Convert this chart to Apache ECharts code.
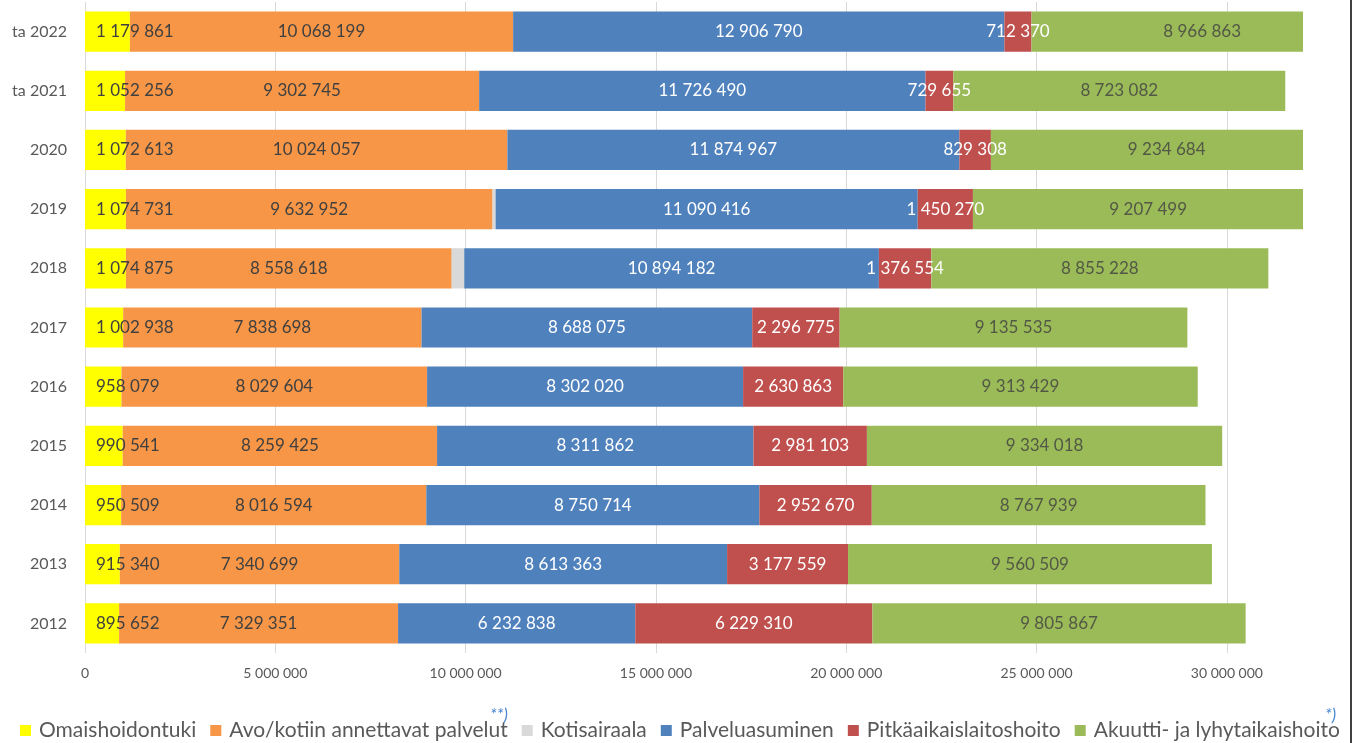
<!DOCTYPE html>
<html><head><meta charset="utf-8">
<script src="https://cdn.jsdelivr.net/npm/echarts@6/dist/echarts.min.js"></script>
<style>html,body{margin:0;padding:0;background:#fff}#c{width:1354px;height:743px}</style>
</head><body><div id="c"></div>
<script>
const categories = ['2012','2013','2014','2015','2016','2017','2018','2019','2020','ta 2021','ta 2022'];
const omaishoidontuki = [895652, 915340, 950509, 990541, 958079, 1002938, 1074875, 1074731, 1072613, 1052256, 1179861];
const avoKotiin = [7329351, 7340699, 8016594, 8259425, 8029604, 7838698, 8558618, 9632952, 10024057, 9302745, 10068199];
const kotisairaala = [0, 0, 0, 0, 0, 0, 330000, 80000, 0, 0, 0];
const palveluasuminen = [6232838, 8613363, 8750714, 8311862, 8302020, 8688075, 10894182, 11090416, 11874967, 11726490, 12906790];
const pitkaaikais = [6229310, 3177559, 2952670, 2981103, 2630863, 2296775, 1376554, 1450270, 829308, 729655, 712370];
const akuutti = [9805867, 9560509, 8767939, 9334018, 9313429, 9135535, 8855228, 9207499, 9234684, 8723082, 8966863];
const xTicks = [0, 5000000, 10000000, 15000000, 20000000, 25000000, 30000000];

const fmt = v => String(Math.round(v)).replace(/\B(?=(\d{3})+(?!\d))/g, ' ');
const FONT = 'Lato';
const darkTxt = '#404040';

function barSeries(name, data, color, labelColor, pos, showLabel, dist) {
  return {
    name, type: 'bar', stack: 'total', data, barWidth: '68%',
    itemStyle: { color }, clip: true, silent: true,
    label: { show: showLabel, position: pos || 'inside', distance: dist || 4, color: labelColor,
      fontFamily: FONT, fontSize: 17,
      formatter: p => p.value ? fmt(p.value) : '' }
  };
}
// labels for the last segment placed at the middle of the full (unclipped) segment
const akuuttiLabelPts = akuutti.map((v, i) => {
  const start = omaishoidontuki[i] + avoKotiin[i] + kotisairaala[i] + palveluasuminen[i] + pitkaaikais[i];
  return [start + v / 2, i, v];
});

const chart = echarts.init(document.getElementById('c'));
chart.setOption({
  animation: false,
  textStyle: { fontFamily: FONT },
  grid: { left: 85, right: 51, top: 2, bottom: 90, containLabel: false },
  legend: {
    top: 715, left: 15, icon: 'rect', itemWidth: 11, itemHeight: 11, itemGap: 14,
    data: ['Omaishoidontuki','Avo/kotiin annettavat palvelut','Kotisairaala','Palveluasuminen','Pitkäaikaislaitoshoito','Akuutti- ja lyhytaikaishoito'],
    textStyle: { fontFamily: FONT, fontSize: 21, color: '#595959', padding: [0, 0, 0, 3] }
  },
  xAxis: {
    type: 'value', min: 0, max: 32000000, interval: 5000000,
    axisLine: { show: false }, axisTick: { show: false },
    splitLine: { show: true, showMaxLine: false, lineStyle: { color: '#d9d9d9', width: 1 } },
    axisLabel: { margin: 13, color: '#595959', fontFamily: FONT, fontSize: 14, showMaxLabel: false,
      formatter: v => xTicks.includes(v) ? fmt(v) : '' }
  },
  yAxis: {
    type: 'category', data: categories,
    axisLine: { show: false }, axisTick: { show: false },
    axisLabel: { margin: 18, color: '#595959', fontFamily: FONT, fontSize: 16 }
  },
  series: [
    barSeries('Omaishoidontuki', omaishoidontuki, '#ffff00', darkTxt, 'insideLeft', true, 11),
    barSeries('Avo/kotiin annettavat palvelut', avoKotiin, '#f79646', darkTxt, 'inside', true),
    barSeries('Kotisairaala', kotisairaala, '#d9d9d9', darkTxt, 'inside', false),
    barSeries('Palveluasuminen', palveluasuminen, '#4f81bd', '#ffffff', 'inside', true),
    barSeries('Pitkäaikaislaitoshoito', pitkaaikais, '#c0504d', '#ffffff', 'inside', true),
    barSeries('Akuutti- ja lyhytaikaishoito', akuutti, '#9bbb59', darkTxt, 'inside', false),
    {
      name: 'akuuttiLabels', type: 'scatter', data: akuuttiLabelPts, symbolSize: 0, silent: true, z: 5,
      label: { show: true, position: 'inside', color: darkTxt, fontFamily: FONT, fontSize: 17,
        formatter: p => fmt(p.value[2]) }
    }
  ],
  graphic: [
    { type: 'line', shape: { x1: 1351, y1: 0, x2: 1351, y2: 743 }, style: { stroke: '#000', lineWidth: 1.5 } },
    { type: 'text', left: 490, top: 707, style: { text: '**)', fill: '#4a86d0', font: 'italic 17px Lato' } },
    { type: 'text', left: 1325, top: 707, style: { text: '*)', fill: '#4a86d0', font: 'italic 17px Lato' } }
  ]
});
</script></body></html>
